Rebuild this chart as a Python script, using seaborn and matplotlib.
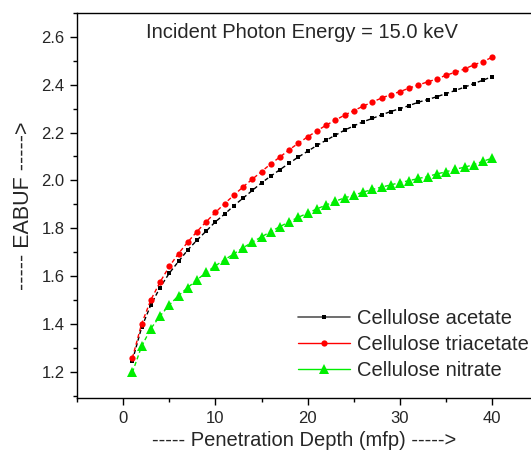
import matplotlib
matplotlib.use("Agg")
import matplotlib.pyplot as plt
from matplotlib.lines import Line2D
from matplotlib.ticker import MultipleLocator, FormatStrFormatter
import seaborn as sns

# Penetration depth (mfp)
depth = list(range(1, 41))

acetate = [1.246, 1.385, 1.479, 1.552, 1.612, 1.661, 1.709, 1.750, 1.788, 1.827,
           1.859, 1.894, 1.926, 1.958, 1.990, 2.018, 2.045, 2.072, 2.098, 2.122,
           2.146, 2.168, 2.189, 2.210, 2.228, 2.245, 2.259, 2.274, 2.288, 2.300,
           2.313, 2.327, 2.338, 2.350, 2.363, 2.376, 2.390, 2.405, 2.419, 2.434]

triacetate = [1.257, 1.400, 1.500, 1.575, 1.640, 1.694, 1.742, 1.786, 1.827, 1.866,
              1.903, 1.938, 1.973, 2.005, 2.037, 2.069, 2.098, 2.128, 2.156, 2.182,
              2.207, 2.231, 2.252, 2.273, 2.292, 2.310, 2.328, 2.344, 2.359, 2.371,
              2.386, 2.399, 2.412, 2.424, 2.440, 2.452, 2.466, 2.483, 2.497, 2.515]

nitrate = [1.197, 1.306, 1.380, 1.433, 1.479, 1.518, 1.552, 1.584, 1.615, 1.643,
           1.668, 1.693, 1.718, 1.742, 1.764, 1.786, 1.807, 1.827, 1.846, 1.863,
           1.881, 1.897, 1.913, 1.927, 1.938, 1.951, 1.962, 1.972, 1.981, 1.991,
           1.999, 2.008, 2.016, 2.027, 2.036, 2.047, 2.055, 2.066, 2.080, 2.093]

labels = ["Cellulose acetate", "Cellulose triacetate", "Cellulose nitrate"]

sns.set_style("ticks")
plt.rcParams['font.family'] = ['Liberation Sans', 'DejaVu Sans']

fig = plt.figure(figsize=(5.31, 4.54), dpi=100)
ax = fig.add_axes([0.145, 0.1233, 0.855, 0.8481])

# curves (dashed between points, like the original)
sns.lineplot(x=depth, y=acetate, ax=ax, color="black", marker="s", markersize=3.5,
             markeredgewidth=0, linewidth=1, linestyle=(0, (3, 2)))
sns.lineplot(x=depth, y=triacetate, ax=ax, color="red", marker="o", markersize=4.5,
             markeredgewidth=0, linewidth=1, linestyle=(0, (3, 2)))
sns.lineplot(x=depth, y=nitrate, ax=ax, color="#00ee00", marker="^", markersize=7.5,
             markeredgewidth=0, linewidth=1, linestyle=(0, (3, 2)))

ax.set_xlim(-5, 44.2)
ax.set_ylim(1.09, 2.70)
ax.xaxis.set_major_locator(MultipleLocator(10))
ax.xaxis.set_minor_locator(MultipleLocator(5))
ax.yaxis.set_major_locator(MultipleLocator(0.2))
ax.yaxis.set_minor_locator(MultipleLocator(0.1))
ax.yaxis.set_major_formatter(FormatStrFormatter('%.1f'))
ax.tick_params(which="major", direction="out", length=5, width=1, labelsize=12,
               color="black", pad=4)
ax.tick_params(which="minor", direction="out", length=3, width=1, color="black")

for s in ["left", "bottom", "top"]:
    ax.spines[s].set_color("black")
    ax.spines[s].set_linewidth(1)
ax.spines["right"].set_visible(False)

ax.set_xlabel("----- Penetration Depth (mfp) ----->", fontsize=14.5, labelpad=4)
ax.set_ylabel("----- EABUF ----->", fontsize=15.5, labelpad=5)

fig.text(302 / 531, 1 - 32 / 454, "Incident Photon Energy = 15.0 keV",
         ha="center", va="center", fontsize=14.5)

handles = [
    Line2D([], [], color="#555555", marker="s", markersize=3.5, markeredgewidth=0,
           markerfacecolor="black", linewidth=1.2),
    Line2D([], [], color="red", marker="o", markersize=4.5, markeredgewidth=0, linewidth=1),
    Line2D([], [], color="#00ee00", marker="^", markersize=7.5, markeredgewidth=0, linewidth=1),
]
ax.legend(handles, labels, loc="upper left", bbox_to_anchor=(298 / 531, 1 - 309 / 454),
          bbox_transform=fig.transFigure, frameon=False, fontsize=14.5,
          handlelength=2.6, handletextpad=0.35, labelspacing=0.35,
          borderpad=0, borderaxespad=0)

fig.savefig("out.png", dpi=100)
plt.close(fig)
